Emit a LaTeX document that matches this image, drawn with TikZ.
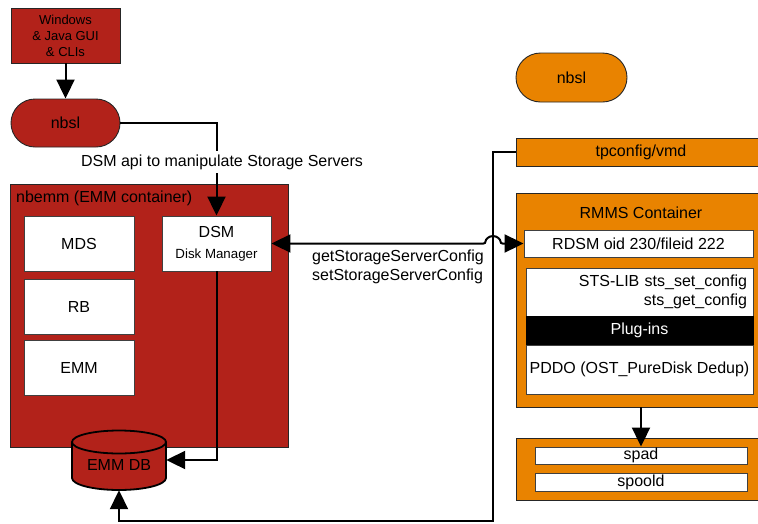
\documentclass[tikz,border=0pt]{standalone}
\usepackage{fontspec}
\setmainfont{Liberation Sans}
\usetikzlibrary{arrows.meta,shapes.misc}
\definecolor{bred}{RGB}{178,34,26}
\definecolor{borange}{RGB}{233,131,0}
\begin{document}
\begin{tikzpicture}[x=1pt,y=-1pt,
  every node/.style={inner sep=0pt, font=\fontsize{16}{19}\selectfont},
  redbox/.style={draw=black!85, line width=0.9pt, fill=bred},
  orbox/.style={draw=black!85, line width=0.9pt, fill=borange},
  wbox/.style={draw=black!75, line width=0.9pt, fill=white},
  conn/.style={line width=2pt},
  tip/.tip={Triangle[length=19pt,width=18pt]},
  arr/.style={conn, -tip}]
\useasboundingbox (0,0) rectangle (758,523);
\clip (0,0) rectangle (758,523);

% left side
\node[redbox, minimum width=109pt, minimum height=55pt, align=center,
      font=\fontsize{13}{16}\selectfont] (win) at (65.5,35.5) {Windows\\\& Java GUI\\\& CLIs};
\node[redbox, shape=rounded rectangle, minimum width=109pt, minimum height=48pt] (nbslr) at (65.5,123) {nbsl};

\node[redbox, minimum width=278pt, minimum height=263pt] (nbemm) at (149,315.5) {};
\node[anchor=west] (nbemmlbl) at (16,198) {nbemm (EMM container)};
\node[wbox, minimum width=110pt, minimum height=55pt] (mds) at (79,243.5) {MDS};
\node[wbox, minimum width=110pt, minimum height=55pt] (rb) at (79,306.5) {RB};
\node[wbox, minimum width=110pt, minimum height=55pt] (emm) at (79,367.5) {EMM};
\node[wbox, minimum width=109pt, minimum height=55pt, align=center] (dsm) at (216.5,243.5)
  {DSM\\[2pt]{\fontsize{13.3}{16}\selectfont Disk Manager}};

% cylinder
\node[minimum width=94pt, minimum height=60pt] (db) at (119,460) {};
\fill[bred] (72,442) -- (72,478) arc[start angle=180, end angle=0, x radius=47, y radius=12]
  -- (166,442) arc[start angle=0, end angle=-180, x radius=47, y radius=11.5] -- cycle;
\draw[line width=1.8pt] (72,442) -- (72,478) arc[start angle=180, end angle=0, x radius=47, y radius=12] -- (166,442);
\draw[line width=1.8pt] (119,442) ellipse [x radius=47, y radius=11.5];
\node (dbtext) at (119,465) {EMM DB};

% right side
\node[orbox, shape=rounded rectangle, minimum width=111pt, minimum height=49pt] (nbslo) at (571.5,77.5) {nbsl};
\node[orbox, minimum width=250pt, minimum height=28pt] (tpc) at (641,152) {tpconfig/vmd};
\node[orbox, minimum width=250pt, minimum height=214pt] (rmms) at (641,300) {};
\node (rmmslbl) at (641,213) {RMMS Container};
\node[wbox, minimum width=229pt, minimum height=27pt] (rdsm) at (638.5,243.5) {RDSM oid 230/fileid 222};
\node[wbox, minimum height=48pt, text width=215pt, inner xsep=6pt, align=right] (sts) at (639.5,292)
  {STS-LIB sts\_set\_config\\sts\_get\_config};
\node[draw=black, fill=black, text=white, minimum width=227pt, minimum height=29pt] (plug) at (639.5,330.5) {Plug-ins};
\node[wbox, minimum width=227pt, minimum height=49pt] (pddo) at (639.5,369.5) {PDDO (OST\_PureDisk Dedup)};

\node[orbox, minimum width=250pt, minimum height=62pt] (spbox) at (641,469) {};
\node[wbox, minimum width=212pt, minimum height=17pt] (spad) at (641,455.5) {spad};
\node[wbox, minimum width=212pt, minimum height=18pt] (spoold) at (641,482) {spoold};

% connectors
\coordinate (bend) at (493,521);
\draw[arr] (win.south) -- (nbslr.north);
\draw[arr] (nbslr.east) -| (dsm.north);
\node[fill=white, inner ysep=4pt, inner xsep=1pt] (dsmapi) at (222,162) {DSM api to manipulate Storage Servers};
\draw[arr] (dsm.south) |- (db.east);
\draw[arr] (tpc.west) -| (bend) -| (db.south);
\draw[conn, tip-tip, rounded corners=2pt] (dsm.east) -- ([xshift=-7.5pt]dsm.east -| bend)
  arc[start angle=180, end angle=360, radius=7.5] -- (rdsm.west);
\node[anchor=west, align=left] (getset) at (312,267) {getStorageServerConfig\\setStorageServerConfig};
\draw[arr] (rmms.south) -- (spad.north);
\end{tikzpicture}
\end{document}
